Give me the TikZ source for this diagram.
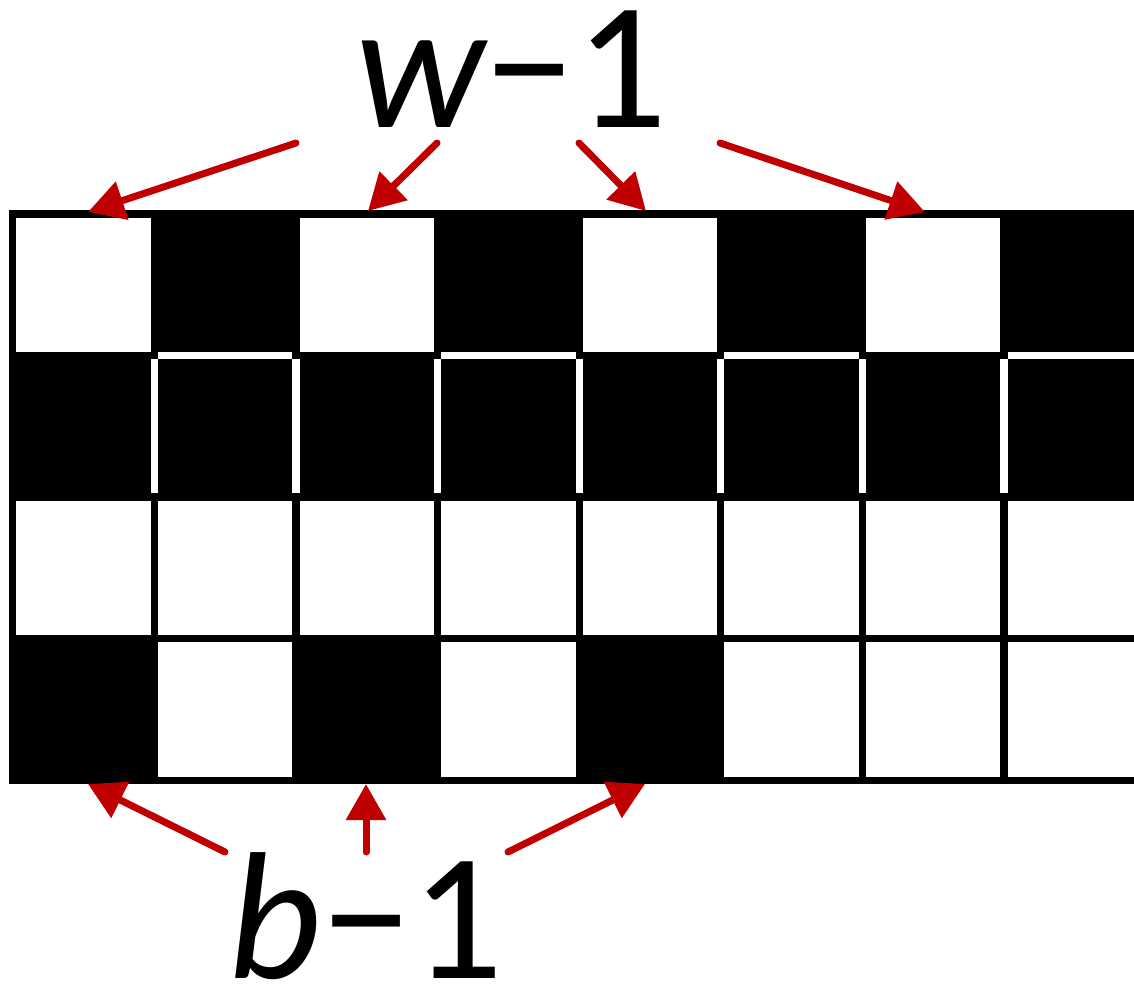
\documentclass[tikz,border=0pt]{standalone}
\usepackage{fontspec}
\newfontfamily\labelfont{Carlito}
\usetikzlibrary{arrows.meta}
\definecolor{arrowred}{RGB}{192,0,0}
\tikzset{
  pointer/.style={draw=arrowred, line width=5.25pt, line cap=round,
    -{Triangle[length=27pt,width=29pt]}},
  gridline/.style={line width=5.5pt},
  biglabel/.style={anchor=base, inner sep=0pt,
    font=\labelfont\fontsize{136}{140}\selectfont}
}

\begin{document}
\begin{tikzpicture}[x=0.75pt,y=0.75pt,yscale=-1,xscale=1]
\useasboundingbox (0,0) rectangle (1134,983);
\clip (0,0) rectangle (1134,983);
\def\cs{141.6}
\def\hw{3.65}

% Cells: 1 = black, 0 = white
\foreach \cells [count=\j from 0] in {{0,1,0,1,0,1,0,1},{1,1,1,1,1,1,1,1},{0,0,0,0,0,0,0,0},{1,0,1,0,1,0,0,0}}{
  \foreach \v [count=\i from 0] in \cells {
    \pgfmathsetmacro\xa{12.8+\i*\cs}
    \pgfmathsetmacro\ya{213.9+\j*\cs}
    \ifnum\v=1
      \fill (\xa+\hw,\ya+\hw) rectangle (\xa+\cs-\hw,\ya+\cs-\hw);
    \else
      \draw[gridline] (\xa,\ya) rectangle (\xa+\cs,\ya+\cs);
    \fi
  }
}
% Outer frame
\draw[gridline] (12.8,213.9) rectangle (12.8+8*\cs,213.9+4*\cs);

% Text Node
\node[biglabel] (wlab) at (511,127) {\itshape w\upshape −1};
% Text Node
\node[biglabel] (blab) at (366,978) {\itshape b\upshape −1};

% Arrow ends
\coordinate (wa) at (296,143);
\coordinate (wb) at (437,143);
\coordinate (wc) at (579,143);
\coordinate (wd) at (720,143);
\coordinate (ta) at (88,212);
\coordinate (tb) at (368,211);
\coordinate (tc) at (646,211);
\coordinate (td) at (925,212);
\coordinate (ba) at (225,852);
\coordinate (bb) at (366,852);
\coordinate (bc) at (508,852);
\coordinate (ua) at (88,784);
\coordinate (ub) at (366,784);
\coordinate (uc) at (645,784);

%Straight Lines
\foreach \s/\e in {wa/ta,wb/tb,wc/tc,wd/td,ba/ua,bb/ub,bc/uc}
  \draw[pointer] (\s) -- (\e);

\end{tikzpicture}
\end{document}
